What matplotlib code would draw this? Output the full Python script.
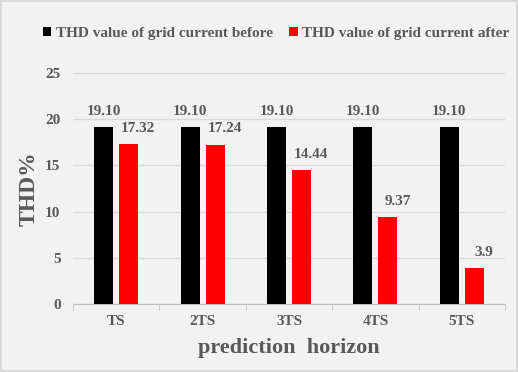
import matplotlib.pyplot as plt
import numpy as np

plt.rcParams['font.family'] = ['Liberation Serif', 'DejaVu Serif']

horizons = ['TS', '2TS', '3TS', '4TS', '5TS']
thd_before = [19.10, 19.10, 19.10, 19.10, 19.10]
thd_after = [17.32, 17.24, 14.44, 9.37, 3.9]
before_labels = ['19.10', '19.10', '19.10', '19.10', '19.10']
after_labels = ['17.32', '17.24', '14.44', '9.37', '3.9']

txt = '#595959'
bg = '#f2f2f2'

fig = plt.figure(figsize=(5.18, 3.72), dpi=100)
fig.patch.set_facecolor(bg)
fig.patch.set_edgecolor('#d9d9d9')
fig.patch.set_linewidth(1.5)
ax = fig.add_axes([0.141, 0.183, 0.834, 0.621])
ax.set_facecolor(bg)

x = np.arange(len(horizons))
w = 0.22
off = 0.145
b1 = ax.bar(x - off, thd_before, w, color='black', label='THD value of grid current before', zorder=3)
b2 = ax.bar(x + off, thd_after, w, color='#ff0000', label='THD value of grid current after', zorder=3)

# value labels over each bar
for rect, s in zip(b1, before_labels):
    ax.text(rect.get_x() + rect.get_width() / 2, rect.get_height() + 1.0, s,
            ha='center', va='bottom', fontsize=11, fontweight='bold', color=txt)
for rect, s in zip(b2, after_labels):
    ax.text(rect.get_x() + rect.get_width() / 2 + 0.11, rect.get_height() + 1.0, s,
            ha='center', va='bottom', fontsize=11, fontweight='bold', color=txt)

ax.set_ylim(0, 25)
ax.set_xlim(-0.5, 4.5)
ax.set_yticks(range(0, 26, 5))
ax.yaxis.grid(True, color='#d9d9d9', linewidth=1, zorder=0)
ax.set_xticks(x)
ax.set_xticklabels(horizons)
ax.set_xticks(np.arange(-0.5, 5, 1), minor=True)
ax.tick_params(axis='x', which='major', length=0, pad=8)
ax.tick_params(axis='x', which='minor', length=4, color='#bfbfbf', direction='out')
ax.tick_params(axis='y', length=0, pad=9)
for lab in ax.get_xticklabels() + ax.get_yticklabels():
    lab.set_fontsize(11)
    lab.set_fontweight('bold')
    lab.set_color(txt)

for sp in ['top', 'right', 'left']:
    ax.spines[sp].set_visible(False)
ax.spines['bottom'].set_color('#bfbfbf')

ax.set_ylabel('THD%', fontsize=17, fontweight='bold', color=txt, labelpad=4)
ax.set_xlabel('prediction  horizon', fontsize=16, fontweight='bold', color=txt, labelpad=7)

fig.legend(handles=[b1, b2], loc='center', bbox_to_anchor=(0.533, 0.91), ncol=2,
           frameon=False, handlelength=0.55, handleheight=0.55, handletextpad=0.3,
           columnspacing=1.1, prop={'size': 11, 'weight': 'bold'}, labelcolor=txt)

fig.savefig('out.png', dpi=100, facecolor=fig.get_facecolor(), edgecolor=fig.get_edgecolor())
